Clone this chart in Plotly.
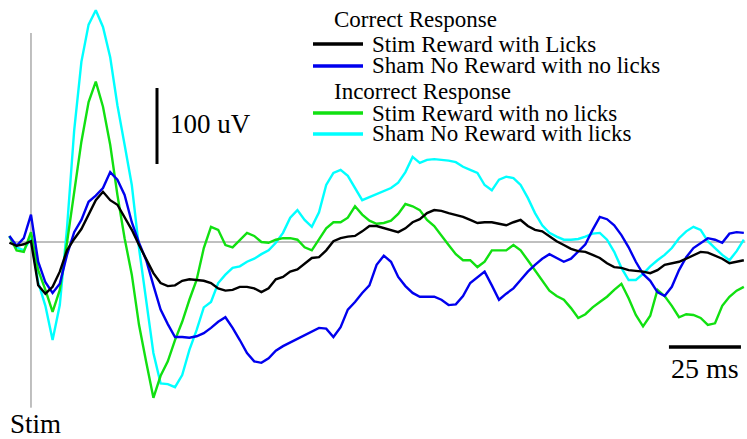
import plotly.graph_objects as go

# time axis (ms relative to stimulus)
time_ms = [-7.5, -5, -2.5, 0, 2.5, 5, 7.5, 10, 12.5, 15,
           17.5, 20, 22.5, 25, 27.5, 30, 32.5, 35, 37.5, 40,
           42.5, 45, 47.5, 50, 52.5, 55, 57.5, 60, 62.5, 65,
           67.5, 70, 72.5, 75, 77.5, 80, 82.5, 85, 87.5, 90,
           92.5, 95, 97.5, 100, 102.5, 105, 107.5, 110, 112.5, 115,
           117.5, 120, 122.5, 125, 127.5, 130, 132.5, 135, 137.5, 140,
           142.5, 145, 147.5, 150, 152.5, 155, 157.5, 160, 162.5, 165,
           167.5, 170, 172.5, 175, 177.5, 180, 182.5, 185, 187.5, 190,
           192.5, 195, 197.5, 200, 202.5, 205, 207.5, 210, 212.5, 215,
           217.5, 220, 222.5, 225, 227.5, 230, 232.5, 235, 237.5, 240,
           242.5, 245, 247.5]

# evoked potentials (uV)
stim_reward_licks = [-1, -5, -3, 1, -57, -68, -59, -39, -11, 4,
                     17, 37, 55, 66, 55, 49, 33, 16, -4, -22,
                     -41, -54, -58, -57, -51, -49, -50, -51, -54, -61,
                     -64, -63, -59, -59, -61, -66, -61, -49, -46, -39,
                     -36, -29, -21, -20, -11, 1, 5, 7, 8, 14,
                     21, 21, 18, 16, 13, 18, 26, 30, 38, 42,
                     41, 38, 36, 33, 29, 25, 26, 26, 24, 22,
                     26, 29, 21, 16, 14, 7, 1, -4, -9, -12,
                     -13, -17, -21, -28, -33, -34, -37, -38, -39, -41,
                     -37, -30, -28, -26, -22, -18, -13, -14, -18, -22,
                     -28, -26, -24]

sham_noreward_nolicks = [8, -5, 5, 36, -26, -53, -67, -55, -17, 13,
                         29, 53, 61, 71, 92, 82, 62, 26, -1, -24,
                         -57, -89, -108, -125, -125, -126, -124, -120, -113, -105,
                         -99, -113, -129, -146, -157, -159, -153, -143, -137, -132,
                         -128, -122, -117, -113, -114, -125, -112, -89, -79, -67,
                         -57, -30, -18, -26, -46, -58, -67, -72, -72, -72,
                         -76, -83, -82, -71, -54, -46, -39, -57, -76, -68,
                         -61, -50, -39, -30, -22, -16, -21, -26, -22, -13,
                         -3, 16, 33, 30, 22, 9, -7, -26, -42, -51,
                         -66, -71, -59, -37, -20, -8, -1, 5, 3, -1,
                         11, 13, 12]

stim_reward_nolicks = [8, -11, -13, 13, -37, -63, -92, -63, -1, 68,
                       132, 184, 211, 178, 128, 62, 5, -43, -109, -158,
                       -205, -176, -157, -129, -105, -76, -50, -8, 20, 16,
                       -4, -7, 3, 12, 8, 0, -1, 3, 5, 5,
                       3, -7, -11, 3, 18, 26, 26, 32, 47, 36,
                       28, 24, 25, 28, 37, 50, 47, 42, 29, 21,
                       8, -4, -16, -24, -24, -33, -26, -11, -11, -11,
                       -4, -11, -24, -37, -50, -64, -71, -76, -87, -100,
                       -95, -86, -79, -72, -63, -55, -74, -96, -111, -97,
                       -63, -71, -84, -99, -95, -96, -100, -109, -107, -84,
                       -72, -64, -59]

sham_noreward_licks = [7, -7, -11, 5, -53, -84, -129, -83, 18, 147,
                       237, 286, 305, 283, 243, 180, 128, 75, -8, -76,
                       -146, -186, -187, -191, -175, -142, -116, -86, -79, -54,
                       -43, -34, -32, -26, -22, -16, -11, -1, 12, 32,
                       42, 29, 20, 39, 75, 91, 95, 87, 71, 55,
                       59, 63, 66, 71, 78, 92, 112, 104, 108, 109,
                       108, 107, 105, 99, 95, 91, 75, 68, 82, 86,
                       84, 75, 58, 38, 22, 12, 7, 3, 3, 4,
                       7, 11, 12, 3, -13, -34, -50, -50, -42, -32,
                       -24, -17, -8, 5, 14, 20, 16, 1, -8, -17,
                       -24, -12, 3]

series_names = ["Stim Reward with Licks", "Sham No Reward with no licks",
                "Stim Reward with no licks", "Sham No Reward with licks"]
group_titles = ["Correct Response", "Incorrect Response"]
colors = ["#000000", "#0000ee", "#11e011", "#00ffff"]

FONT = "Liberation Serif, Times New Roman, serif"

fig = go.Figure()
series = [stim_reward_licks, sham_noreward_nolicks, stim_reward_nolicks, sham_noreward_licks]
order = [3, 2, 1, 0]
for i in order:
    fig.add_trace(go.Scatter(x=time_ms, y=series[i], mode="lines", name=series_names[i],
                             line=dict(color=colors[i], width=2.4), showlegend=False))

shapes = [
    # stimulus marker
    dict(type="line", xref="x", yref="y", x0=0, x1=0, y0=-218, y1=275,
         line=dict(color="#808080", width=1), layer="below"),
    # baseline
    dict(type="line", xref="x", yref="y", x0=-7.3, x1=248, y0=0, y1=0,
         line=dict(color="#808080", width=1), layer="below"),
    # 100 uV scale bar
    dict(type="line", xref="x", yref="y", x0=43.75, x1=43.75, y0=102.6, y1=202.6,
         line=dict(color="black", width=3)),
    # 25 ms scale bar
    dict(type="line", xref="x", yref="y", x0=221.5, x1=246.5, y0=-138, y1=-138,
         line=dict(color="black", width=3.5)),
]

W, H = 747, 439
legend_rows_y = [44, 66, 113, 134]
for c, py in zip(colors, legend_rows_y):
    shapes.append(dict(type="line", xref="paper", yref="paper",
                       x0=313 / W, x1=363 / W, y0=1 - py / H, y1=1 - py / H,
                       line=dict(color=c, width=3.5)))

annotations = [
    dict(x=48, y=155, xref="x", yref="y", text="100 uV", showarrow=False,
         xanchor="left", yanchor="middle", borderpad=0,
         font=dict(family=FONT, size=27, color="black")),
    dict(x=234, y=-166, xref="x", yref="y", text="25 ms", showarrow=False,
         xanchor="center", yanchor="middle", borderpad=0,
         font=dict(family=FONT, size=28, color="black")),
    dict(x=1.7, y=-239, xref="x", yref="y", text="Stim", showarrow=False,
         xanchor="center", yanchor="middle", borderpad=0,
         font=dict(family=FONT, size=27, color="black")),
]
for title, py in zip(group_titles, [20, 91]):
    annotations.append(dict(x=333 / W, y=1 - py / H, xref="paper", yref="paper", text=title,
                            showarrow=False, xanchor="left", yanchor="middle", borderpad=0,
                            font=dict(family=FONT, size=23, color="black")))
for name, py in zip(series_names, legend_rows_y):
    annotations.append(dict(x=371 / W, y=1 - py / H, xref="paper", yref="paper", text=name,
                            showarrow=False, xanchor="left", yanchor="middle", borderpad=0,
                            font=dict(family=FONT, size=23, color="black")))

fig.update_layout(
    width=W, height=H, autosize=False,
    margin=dict(l=0, r=0, t=0, b=0),
    paper_bgcolor="white", plot_bgcolor="white",
    xaxis=dict(range=[-10.76, 248.6], visible=False, fixedrange=True),
    yaxis=dict(range=[-259.2, 318.4], visible=False, fixedrange=True),
    shapes=shapes, annotations=annotations, showlegend=False,
)

fig.write_html("out.html", config={"displayModeBar": False},
               post_script="document.body.style.margin='0';document.body.style.padding='0';")
